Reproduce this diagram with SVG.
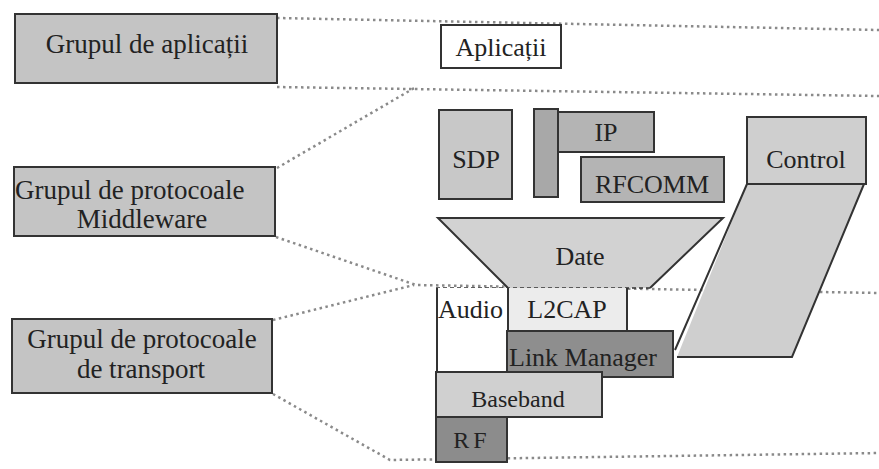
<svg xmlns="http://www.w3.org/2000/svg" width="879" height="469" viewBox="0 0 879 469">
<style>
text{font-family:"Liberation Serif","Times New Roman",serif;font-size:26px;fill:#222}
.box{stroke:#333;stroke-width:2}
.c{text-anchor:middle}
.dot{fill:none;stroke:#8a8a8a;stroke-width:2.5;stroke-dasharray:2.5 3.5}
</style>
<rect width="879" height="469" fill="#fff"/>
<g id="connectors">
<path class="dot" d="M277 18 L879 30"/>
<path class="dot" d="M277 87 L879 96"/>
<path class="dot" d="M277 168 L416 87"/>
<path class="dot" d="M276 237 L416 285 L879 293"/>
<path class="dot" d="M273 320 L414 285"/>
<path class="dot" d="M273 394 L390 460 L879 453"/>
</g>
<g id="grup-aplicatii"><rect class="box" x="15" y="14" width="262" height="69" fill="#c4c4c4"/><text class="c" x="147" y="53" style="font-size:27px">Grupul de aplicații</text></g>
<g id="grup-middleware"><rect class="box" x="14" y="167" width="261" height="69" fill="#c4c4c4"/><text x="15" y="199" style="font-size:27px">Grupul de protocoale</text><text class="c" x="142" y="228" style="font-size:27px">Middleware</text></g>
<g id="grup-transport"><rect class="box" x="12" y="319" width="260" height="74" fill="#c4c4c4"/><text class="c" x="142" y="348" style="font-size:27px">Grupul de protocoale</text><text class="c" x="141" y="378" style="font-size:27px">de transport</text></g>
<g id="aplicatii"><rect class="box" x="441" y="25" width="120" height="43" fill="#fff"/><text class="c" x="501" y="56">Aplicații</text></g>
<g id="sdp"><rect class="box" x="439" y="110" width="73" height="89" fill="#c8c8c8"/><text class="c" x="476" y="168">SDP</text></g>
<g id="bar"><rect class="box" x="534" y="109" width="24" height="88" fill="#a8a8a8"/></g>
<g id="ip"><rect class="box" x="558" y="112" width="96" height="40" fill="#b4b4b4"/><text class="c" x="606" y="141">IP</text></g>
<g id="rfcomm"><rect class="box" x="581" y="157" width="143" height="45" fill="#b4b4b4"/><text class="c" x="652" y="193">RFCOMM</text></g>
<g id="control"><path d="M747 184 L864 184 L792 357 L677 357 Z" fill="#cfcfcf" stroke="none"/><path d="M747 184 L675 350 M864 184 L792 357 L677 357" fill="none" stroke="#333" stroke-width="2"/><rect class="box" x="747" y="117" width="119" height="67" fill="#cfcfcf"/><text class="c" x="806" y="168">Control</text></g>
<g id="date"><path d="M438 218 L723 218 L650 288 L508 288 Z" fill="#d2d2d2"/><path d="M508 288 L438 218 L723 218 L650 288" fill="none" stroke="#333" stroke-width="2"/><path d="M436 288 L650 288" fill="none" stroke="#333" stroke-width="1.5" stroke-dasharray="4 3"/><text class="c" x="580" y="265">Date</text></g>
<g id="audio"><path d="M437 288 L437 372 L508 372 L508 288" fill="#fff" stroke="#333" stroke-width="2"/><text x="438" y="318">Audio</text></g>
<g id="l2cap"><path d="M508 288 L508 331 L627 331 L627 288" fill="#ececec" stroke="#333" stroke-width="2"/><text class="c" x="567" y="318">L2CAP</text></g>
<g id="link-manager"><rect class="box" x="507" y="331" width="166" height="46" fill="#8e8e8e"/><text x="509" y="366">Link Manager</text></g>
<g id="baseband"><rect class="box" x="436" y="372" width="166" height="45" fill="#d0d0d0"/><text class="c" x="518" y="407" style="font-size:24px">Baseband</text></g>
<g id="rf"><rect class="box" x="436" y="417" width="71" height="45" fill="#8c8c8c"/><text class="c" x="472" y="448" style="font-size:24px;letter-spacing:4px">RF</text></g>
</svg>
